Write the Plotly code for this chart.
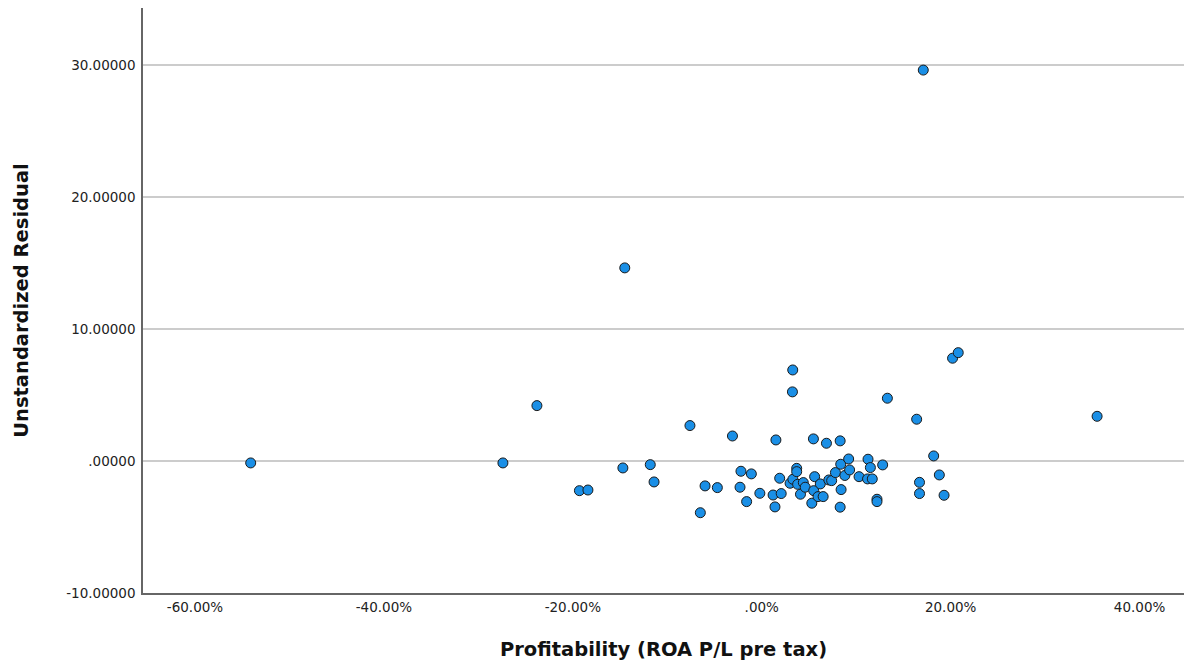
import plotly.graph_objects as go

# Profitability (ROA P/L pre tax), in percent
roa = [-54.1, -27.4, -23.8, -19.3, -18.4, -14.7, -14.5, -11.8, -11.4, -7.6,
       -6.5, -6.0, -4.7, -3.1, -2.2, -2.3, -1.6, -1.1, -0.2, 1.2,
       1.4, 1.5, 1.9, 2.06, 3.0, 3.25, 3.28, 3.3, 3.7, 3.7,
       3.8, 4.1, 4.4, 4.6, 5.3, 5.47, 5.5, 5.6, 5.96, 6.2,
       6.5, 6.85, 7.1, 7.4, 7.8, 8.3, 8.3, 8.36, 8.4, 8.8,
       9.2, 9.3, 10.3, 11.2, 11.25, 11.5, 11.7, 12.2, 12.2, 12.8,
       13.3, 16.4, 16.7, 16.7, 17.1, 18.2, 18.8, 19.3, 20.2, 20.8,
       35.5]
# Unstandardized residual
resid = [-0.15, -0.15, 4.19, -2.25, -2.2, -0.53, 14.62, -0.28, -1.59, 2.68,
         -3.92, -1.89, -2.02, 1.89, -0.78, -1.99, -3.08, -0.98, -2.45, -2.58,
         -3.48, 1.59, -1.31, -2.47, -1.69, 5.23, 6.89, -1.39, -0.56, -0.81,
         -1.77, -2.52, -1.64, -1.99, -3.2, 1.67, -2.25, -1.19, -2.7, -1.74,
         -2.7, 1.34, -1.44, -1.49, -0.88, 1.52, -3.5, -0.25, -2.17, -1.1,
         0.15, -0.68, -1.19, -1.36, 0.13, -0.5, -1.36, -2.9, -3.08, -0.3,
         4.75, 3.16, -1.62, -2.47, 29.6, 0.38, -1.06, -2.6, 7.78, 8.2,
         3.38]

x_tickvals = [-60, -40, -20, 0, 20, 40]
x_ticktext = ["-60.00%", "-40.00%", "-20.00%", ".00%", "20.00%", "40.00%"]
y_tickvals = [-10, 0, 10, 20, 30]
y_ticktext = ["-10.00000", ".00000", "10.00000", "20.00000", "30.00000"]

fig = go.Figure(go.Scatter(
    x=roa, y=resid, mode="markers",
    marker=dict(size=10, color="#1a8fe6", line=dict(color="#1a1a1a", width=1)),
    hoverinfo="x+y", showlegend=False,
))

fig.update_layout(
    width=1184, height=665,
    margin=dict(l=143, r=0, t=8, b=72),
    paper_bgcolor="white", plot_bgcolor="white",
    font=dict(family="DejaVu Sans", size=13.5, color="#222222"),
    xaxis=dict(
        range=[-65.5, 44.7], tickvals=x_tickvals, ticktext=x_ticktext,
        showgrid=False, zeroline=False, showline=True, linecolor="#666666",
        linewidth=1.5, ticks="", ticklabelstandoff=1,
        title=dict(text="<b>Profitability (ROA P/L pre tax)</b>",
                   font=dict(size=19.5, color="#111111"), standoff=28),
    ),
    yaxis=dict(
        range=[-10, 34.3], tickvals=y_tickvals, ticktext=y_ticktext,
        showgrid=True, gridcolor="#cccccc", gridwidth=1.5,
        zeroline=False, showline=True, linecolor="#666666", linewidth=1.5,
        ticks="", ticklabelstandoff=3,
        title=dict(text="<b>Unstandardized Residual</b>",
                   font=dict(size=19.5, color="#111111"), standoff=32),
    ),
)

fig.write_html(
    "out.html",
    config={"displayModeBar": False},
    post_script="document.body.style.margin='0';document.body.style.overflow='hidden';",
)
